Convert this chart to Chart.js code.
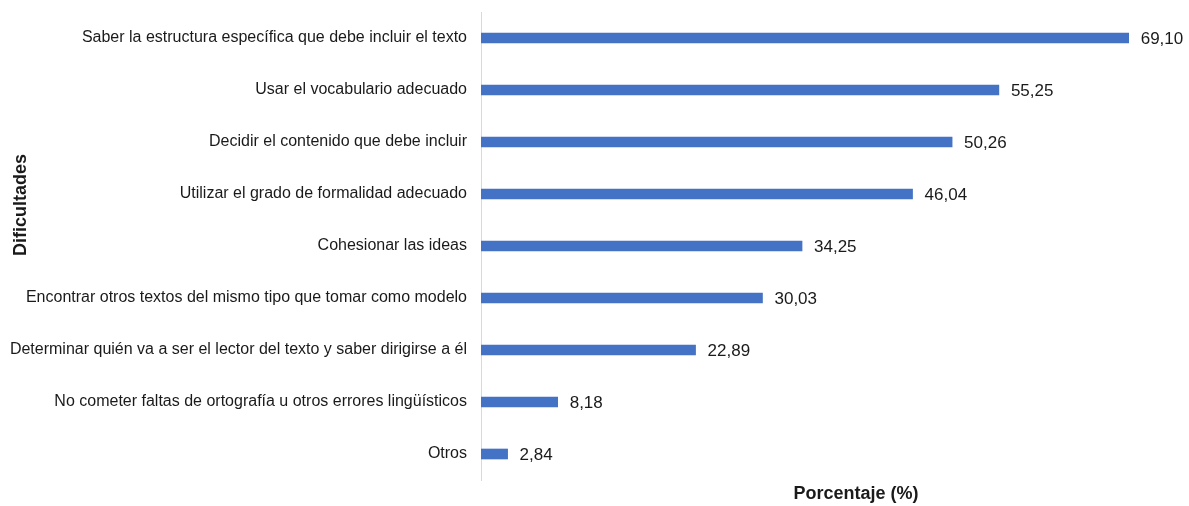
<!DOCTYPE html>
<html>
<head>
<meta charset="utf-8">
<script src="https://cdn.jsdelivr.net/npm/chart.js@4/dist/chart.umd.min.js"></script>
<style>
  html, body { margin: 0; padding: 0; background: #fff; }
  #contenedor { width: 1189px; height: 506px; position: relative; }
</style>
</head>
<body>
<div id="contenedor"><canvas id="graficoDificultades"></canvas></div>
<script>
// Dificultades señaladas y su porcentaje
const categorias = [
    "Saber la estructura específica que debe incluir el texto",
    "Usar el vocabulario adecuado",
    "Decidir el contenido que debe incluir",
    "Utilizar el grado de formalidad adecuado",
    "Cohesionar las ideas",
    "Encontrar otros textos del mismo tipo que tomar como modelo",
    "Determinar quién va a ser el lector del texto y saber dirigirse a él",
    "No cometer faltas de ortografía u otros errores lingüísticos",
    "Otros"
];
const porcentajes = [69.10, 55.25, 50.26, 46.04, 34.25, 30.03, 22.89, 8.18, 2.84];

const tituloEjeY = "Dificultades";
const tituloEjeX = "Porcentaje (%)";

const fuente = "'Liberation Sans', Arial, sans-serif";

// Etiquetas con el valor al final de cada barra (coma decimal)
const etiquetasValor = {
    id: 'etiquetasValor',
    afterDatasetsDraw(chart) {
        const ctx = chart.ctx;
        const meta = chart.getDatasetMeta(0);
        ctx.save();
        ctx.font = "17px " + fuente;
        ctx.fillStyle = "#1a1a1a";
        ctx.textAlign = "left";
        ctx.textBaseline = "middle";
        meta.data.forEach((barra, i) => {
            const texto = porcentajes[i].toFixed(2).replace('.', ',');
            ctx.fillText(texto, barra.x + 12, barra.y + 1);
        });
        ctx.restore();
    }
};

// Títulos de los ejes
const titulosEjes = {
    id: 'titulosEjes',
    afterDraw(chart) {
        const ctx = chart.ctx;
        const area = chart.chartArea;
        ctx.save();
        ctx.font = "bold 18px " + fuente;
        ctx.fillStyle = "#1a1a1a";
        ctx.textAlign = "center";
        ctx.textBaseline = "middle";
        ctx.fillText(tituloEjeX, 856, area.bottom + 14);
        ctx.translate(21, 205);
        ctx.rotate(-Math.PI / 2);
        ctx.fillText(tituloEjeY, 0, 0);
        ctx.restore();
    }
};

const ctx = document.getElementById('graficoDificultades').getContext('2d');
new Chart(ctx, {
    type: 'bar',
    data: {
        labels: categorias,
        datasets: [{
            data: porcentajes,
            backgroundColor: '#4472C4',
            barThickness: 10
        }]
    },
    options: {
        indexAxis: 'y',
        responsive: true,
        maintainAspectRatio: false,
        animation: false,
        layout: {
            padding: { top: 12, bottom: 26, left: 0, right: 5 }
        },
        plugins: {
            legend: { display: false },
            tooltip: { enabled: false }
        },
        scales: {
            x: {
                display: false,
                min: 0,
                max: 75
            },
            y: {
                grid: { display: false, drawTicks: false },
                border: { display: true, color: '#d9d9d9', width: 1 },
                ticks: {
                    color: '#1a1a1a',
                    font: { family: fuente, size: 16 },
                    padding: 14
                },
                afterFit(scale) {
                    scale.width = 481;
                    scale.paddingTop = 0;
                    scale.paddingBottom = 0;
                }
            }
        }
    },
    plugins: [etiquetasValor, titulosEjes]
});
</script>
</body>
</html>
